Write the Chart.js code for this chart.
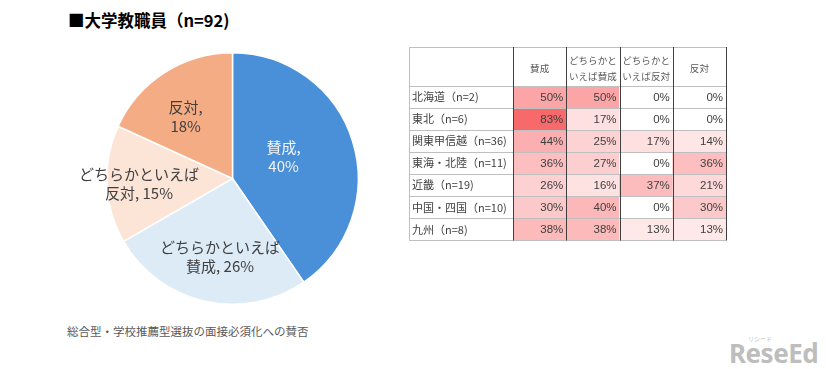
<!DOCTYPE html>
<html><head><meta charset="utf-8">
<script src="https://cdn.jsdelivr.net/npm/chart.js@4.4.0/dist/chart.umd.min.js"></script>
<style>
html,body{margin:0;padding:0;}
body{width:826px;height:369px;background:#fff;position:relative;overflow:hidden;font-family:"Noto Sans CJK JP",sans-serif;}
#title{position:absolute;left:68px;top:7px;font-size:16.5px;font-weight:bold;color:#000;line-height:26px;white-space:nowrap;}
#caption{position:absolute;left:67px;top:321px;font-size:11.5px;color:#595959;line-height:20px;white-space:nowrap;}
#pieWrap{position:absolute;left:60px;top:40px;width:345px;height:277px;}
#tblWrap{position:absolute;left:400px;top:40px;width:340px;height:210px;}
#logo{position:absolute;left:729px;top:333px;width:96px;height:36px;color:#bdbdbd;font-family:"Noto Sans",sans-serif;}
#logo .big{position:absolute;left:0;top:5px;font-size:26px;font-weight:bold;letter-spacing:-0.5px;line-height:30px;}
#logo .small{position:absolute;left:19px;top:2px;font-size:6px;line-height:8px;font-family:"Noto Sans CJK JP",sans-serif;}
</style>
</head>
<body>
<div id="title">■大学教職員（n=92)</div>
<div id="pieWrap"><canvas id="pie"></canvas></div>
<div id="tblWrap"><canvas id="tbl"></canvas></div>
<div id="caption">総合型・学校推薦型選抜の面接必須化への賛否</div>
<div id="logo"><span class="small">リシード</span><span class="big">ReseEd</span></div>
<script>
// ---- data ----
const pieLabels = ['賛成', 'どちらかといえば賛成', 'どちらかといえば反対', '反対'];
const pieValues = [40, 26, 15, 18];

const regions = ['北海道（n=2)', '東北（n=6)', '関東甲信越（n=36)', '東海・北陸（n=11)', '近畿（n=19)', '中国・四国（n=10)', '九州（n=8)'];
const tableHeaders = [['賛成'], ['どちらかと', 'いえば賛成'], ['どちらかと', 'いえば反対'], ['反対']];
const colAgree = [50, 83, 44, 36, 26, 30, 38];
const colSomewhatAgree = [50, 17, 25, 27, 16, 40, 38];
const colSomewhatDisagree = [0, 0, 17, 0, 37, 0, 13];
const colDisagree = [0, 0, 14, 36, 21, 30, 13];

// ---- pie ----
const pieColors = ['#4A90D9', '#DDEBF7', '#FCE4D6', '#F4AC85'];
const pieTextColors = ['#F4F4F4', '#404040', '#404040', '#404040'];
const labelRadiusFrac = [0.44, 0.632, 0.745, 0.618];
const labelAngleShift = [-5.4, -3.7, -0.6, -4.3];

function pieLabelLines(label, v) {
  const pre = 'どちらかといえば';
  if (label.startsWith(pre)) return [pre, label.slice(pre.length) + ', ' + v + '%'];
  return [label + ',', v + '%'];
}

const pieLabelPlugin = {
  id: 'pieLabels',
  afterDatasetsDraw(chart) {
    const ctx = chart.ctx;
    const meta = chart.getDatasetMeta(0);
    ctx.save();
    ctx.font = '15px "Noto Sans CJK JP", sans-serif';
    ctx.textAlign = 'center';
    ctx.textBaseline = 'middle';
    meta.data.forEach((arc, i) => {
      const p = arc.getProps(['x', 'y', 'startAngle', 'endAngle', 'outerRadius'], true);
      const a = (p.startAngle + p.endAngle) / 2 + labelAngleShift[i] * Math.PI / 180;
      const r = p.outerRadius * labelRadiusFrac[i];
      const cx = p.x + Math.cos(a) * r;
      const cy = p.y + Math.sin(a) * r;
      const lines = pieLabelLines(pieLabels[i], pieValues[i]);
      const lh = 19;
      ctx.fillStyle = pieTextColors[i];
      lines.forEach((ln, k) => {
        ctx.fillText(ln, cx, cy + (k - (lines.length - 1) / 2) * lh);
      });
    });
    ctx.restore();
  }
};

new Chart(document.getElementById('pie'), {
  type: 'pie',
  data: {
    labels: pieLabels,
    datasets: [{
      data: pieValues,
      backgroundColor: pieColors,
      borderColor: '#ffffff',
      borderWidth: 1.5
    }]
  },
  options: {
    responsive: true,
    maintainAspectRatio: false,
    animation: false,
    layout: { padding: { left: 46, right: 46, top: 12, bottom: 12 } },
    plugins: { legend: { display: false }, tooltip: { enabled: false } }
  },
  plugins: [pieLabelPlugin]
});

// ---- table (heat map) ----
const tableCols = [colAgree, colSomewhatAgree, colSomewhatDisagree, colDisagree];
const maxVal = Math.max(...tableCols.flat());
function heat(v) {
  const t = v / maxVal;
  const r = Math.round(255 + (248 - 255) * t);
  const g = Math.round(255 + (105 - 255) * t);
  const b = Math.round(255 + (107 - 255) * t);
  return `rgb(${r},${g},${b})`;
}

const tableDatasets = regions.map((reg, ri) => ({
  label: reg,
  data: tableCols.map(() => [ri, ri + 1]),
  backgroundColor: tableCols.map(col => heat(col[ri])),
  borderWidth: 0,
  barPercentage: 1,
  categoryPercentage: 1,
  grouped: false
}));

const tableGridPlugin = {
  id: 'tableGrid',
  afterDatasetsDraw(chart) {
    const ctx = chart.ctx;
    const xs = chart.scales.x, ys = chart.scales.y;
    const ca = chart.chartArea;
    const tLeft = ys.left - 3;
    const hTop = xs.top;
    const crisp = v => Math.round(v) + 0.5;
    const half = (xs.getPixelForValue(1) - xs.getPixelForValue(0)) / 2;
    ctx.save();
    ctx.lineWidth = 1;
    ctx.strokeStyle = '#BFBFBF';
    ctx.beginPath();
    ctx.moveTo(tLeft, crisp(hTop)); ctx.lineTo(ca.right, crisp(hTop));
    for (let i = 0; i <= regions.length; i++) {
      const yy = crisp(ys.getPixelForValue(i));
      ctx.moveTo(tLeft, yy); ctx.lineTo(ca.right, yy);
    }
    ctx.moveTo(crisp(tLeft), hTop); ctx.lineTo(crisp(tLeft), ca.bottom);
    ctx.stroke();
    ctx.strokeStyle = '#3F3F3F';
    ctx.beginPath();
    for (let c = 0; c <= tableCols.length; c++) {
      const xx = crisp(xs.getPixelForValue(c) - half);
      ctx.moveTo(xx, hTop); ctx.lineTo(xx, crisp(ca.bottom));
    }
    ctx.stroke();
    ctx.fillStyle = '#404040';
    ctx.font = '11.5px "Liberation Sans", sans-serif';
    ctx.textAlign = 'right';
    ctx.textBaseline = 'middle';
    tableCols.forEach((col, c) => {
      const xr = xs.getPixelForValue(c) + half - 3;
      col.forEach((v, ri) => {
        ctx.fillText(v + '%', xr, ys.getPixelForValue(ri + 0.5) + 0.5);
      });
    });
    ctx.restore();
  }
};

new Chart(document.getElementById('tbl'), {
  type: 'bar',
  data: { labels: tableHeaders, datasets: tableDatasets },
  options: {
    responsive: true,
    maintainAspectRatio: false,
    animation: false,
    layout: { padding: { left: 12, top: 7, right: 14, bottom: 9 } },
    plugins: { legend: { display: false }, tooltip: { enabled: false } },
    scales: {
      x: {
        type: 'category',
        position: 'top',
        offset: true,
        grid: { display: false, drawTicks: false },
        border: { display: false },
        ticks: {
          autoSkip: false, maxRotation: 0, minRotation: 0,
          crossAlign: 'center', padding: 10,
          color: '#595959',
          font: { size: 9.5, family: '"Noto Sans CJK JP", sans-serif', lineHeight: 1.65 }
        },
        afterFit: s => { s.height = 39; }
      },
      y: {
        type: 'linear',
        min: 0,
        max: regions.length,
        reverse: true,
        grid: { display: false, drawTicks: false },
        border: { display: false },
        afterBuildTicks: s => { s.ticks = regions.map((_, i) => ({ value: i + 0.5 })); },
        ticks: {
          autoSkip: false,
          crossAlign: 'far',
          color: '#404040',
          font: { size: 11, family: '"Noto Sans CJK JP", sans-serif' },
          callback: (v, i) => regions[i]
        },
        afterFit: s => { s.width = 101; }
      }
    }
  },
  plugins: [tableGridPlugin]
});
</script>
</body></html>
